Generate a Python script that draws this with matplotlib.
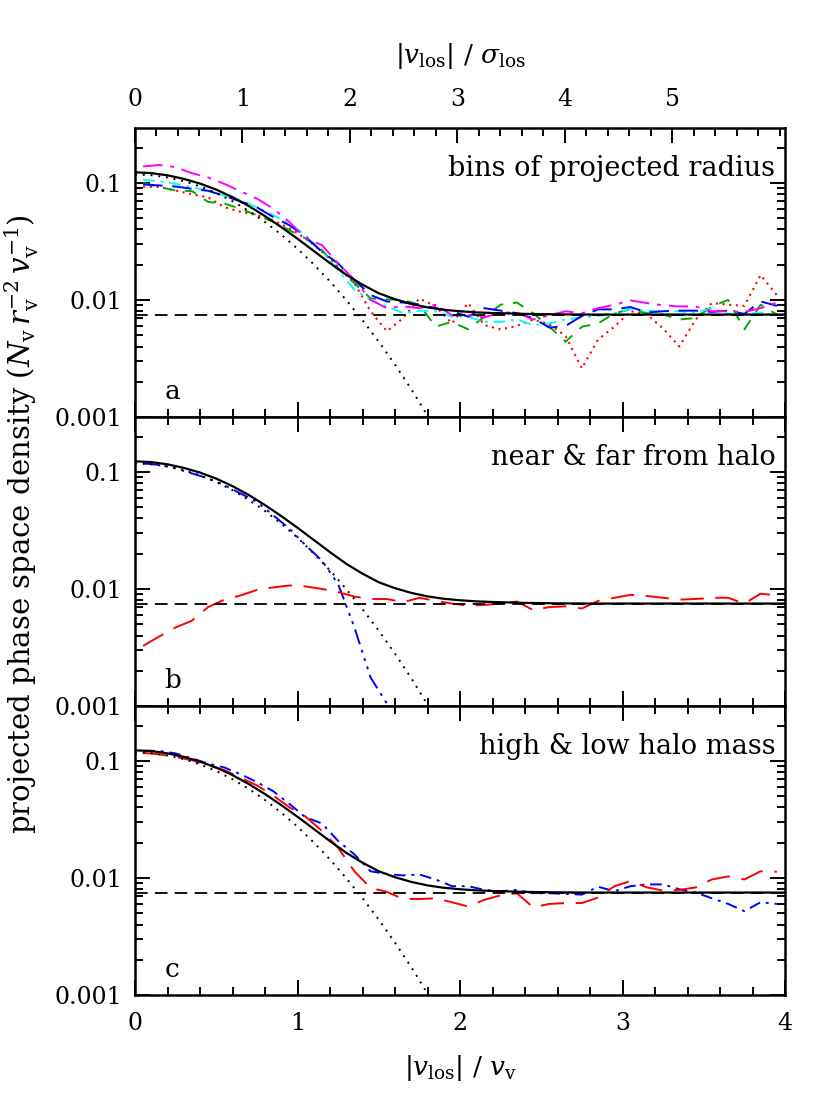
"""Projected phase space density of particles around haloes, three panels."""

import numpy as np
import matplotlib
matplotlib.use("Agg")
import matplotlib.pyplot as plt
from matplotlib.ticker import FixedLocator, MultipleLocator, LogLocator, NullFormatter

plt.rcParams['font.family'] = ['DejaVu Serif']
plt.rcParams['mathtext.fontset'] = 'dejavuserif'

# ---- data -----------------------------------------------------------------
SIGMA_LOS = 0.6615          # sigma_los / v_v (top axis scale)
BACKGROUND = 0.0075         # constant interloper level
sigma_ticks = [0, 1, 2, 3, 4, 5]

# model curves, sampled in v_los / v_v
v_model = [0.0, 0.1, 0.2, 0.3, 0.4, 0.5, 0.6, 0.7, 0.8, 0.9, 1.0, 1.1, 1.2,
           1.3, 1.4, 1.5, 1.6, 1.7, 1.8, 1.9, 2.0, 2.1, 2.2, 2.4, 2.6, 2.8, 4.0]
model_total = [0.1230, 0.1211, 0.1159, 0.1081, 0.0986, 0.0875, 0.0755, 0.0634,
               0.0520, 0.0419, 0.0333, 0.0262, 0.0206, 0.0164, 0.0135, 0.0114,
               0.01014, 0.00925, 0.00863, 0.00824, 0.00800, 0.00783, 0.00773,
               0.00760, 0.00753, 0.0075, 0.0075]
v_gauss = [0.0, 0.1, 0.2, 0.3, 0.4, 0.5, 0.6, 0.7, 0.8, 0.9, 1.0, 1.1, 1.2,
           1.3, 1.4, 1.5, 1.6, 1.7, 1.8, 1.9]
model_gauss = [0.118, 0.1163, 0.1113, 0.1034, 0.0934, 0.0819, 0.0697, 0.0576,
               0.0463, 0.0361, 0.0274, 0.0201, 0.01438, 0.00997, 0.00672,
               0.00440, 0.00280, 0.00173, 0.00103, 0.000602]

# measured bins (centres)
v_bins = [0.05, 0.15, 0.25, 0.35, 0.45, 0.55, 0.65, 0.75, 0.85, 0.95,
          1.05, 1.15, 1.25, 1.35, 1.45, 1.55, 1.65, 1.75, 1.85, 1.95,
          2.05, 2.15, 2.25, 2.35, 2.45, 2.55, 2.65, 2.75, 2.85, 2.95,
          3.05, 3.15, 3.25, 3.35, 3.45, 3.55, 3.65, 3.75, 3.85, 3.95]

# panel a: bins of projected radius
radius_magenta = [0.138, 0.142, 0.136, 0.121, 0.111, 0.098, 0.0847, 0.0733, 0.0602, 0.0464,
                  0.0335, 0.0294, 0.0205, 0.0148, 0.0100, 0.0085, 0.0088, 0.0085, 0.0091, 0.0074,
                  0.0074, 0.0071, 0.0078, 0.0078, 0.0068, 0.0074, 0.0080, 0.0077, 0.0085, 0.0091,
                  0.0099, 0.0094, 0.0090, 0.0088, 0.0088, 0.0080, 0.0080, 0.0079, 0.0085, 0.0095]
radius_blue = [0.097, 0.095, 0.093, 0.089, 0.0855, 0.0775, 0.0692, 0.0618, 0.0511, 0.0435,
               0.0346, 0.0258, 0.0205, 0.0148, 0.0110, 0.0097, 0.0095, 0.0091, 0.0085, 0.0080,
               0.0072, 0.0085, 0.0081, 0.0077, 0.0070, 0.0058, 0.0060, 0.0073, 0.0083, 0.0083,
               0.0087, 0.0078, 0.0080, 0.0081, 0.0081, 0.0079, 0.0081, 0.0076, 0.0097, 0.0089]
radius_cyan = [0.106, 0.103, 0.098, 0.092, 0.085, 0.078, 0.071, 0.062, 0.053, 0.045,
               0.0357, 0.0258, 0.018, 0.0122, 0.0100, 0.0088, 0.0077, 0.0081, 0.0080, 0.0072,
               0.0072, 0.0065, 0.0065, 0.0068, 0.0061, 0.0063, 0.0068, 0.0071, 0.0073, 0.0077,
               0.0084, 0.0081, 0.0080, 0.0080, 0.0078, 0.0085, 0.0076, 0.0075, 0.0078, 0.0072]
radius_green = [0.0998, 0.092, 0.086, 0.085, 0.0687, 0.0665, 0.060, 0.053, 0.0464, 0.0394,
                0.0335, 0.0267, 0.0186, 0.0139, 0.0103, 0.0101, 0.0100, 0.0091, 0.0059, 0.0065,
                0.0056, 0.0072, 0.0091, 0.0095, 0.0077, 0.0059, 0.0044, 0.0059, 0.0063, 0.0077,
                0.0083, 0.0077, 0.0075, 0.0068, 0.0070, 0.0088, 0.0100, 0.0056, 0.0091, 0.0075]
radius_red = [0.093, 0.092, 0.086, 0.080, 0.075, 0.062, 0.0565, 0.053, 0.048, 0.0408,
              0.0335, 0.0258, 0.0192, 0.0139, 0.0080, 0.0054, 0.0070, 0.0103, 0.0088, 0.0063,
              0.0094, 0.0061, 0.0056, 0.0060, 0.0068, 0.0062, 0.0049, 0.0026, 0.0046, 0.0059,
              0.0080, 0.0075, 0.0057, 0.0040, 0.0068, 0.0094, 0.0091, 0.0089, 0.0163, 0.0110]

# panel b: near & far from halo
v_near = [0.05, 0.15, 0.25, 0.35, 0.45, 0.55, 0.65, 0.75, 0.85, 0.95,
          1.05, 1.15, 1.25, 1.35, 1.45, 1.55, 1.65]
near_blue = [0.118, 0.1146, 0.107, 0.097, 0.0879, 0.077, 0.0653, 0.0554, 0.0426, 0.0327,
             0.0236, 0.0175, 0.0110, 0.0047, 0.00175, 0.00105, 0.0005]
far_red = [0.00326, 0.00393, 0.00469, 0.00535, 0.0070, 0.0081, 0.0088, 0.0098, 0.0103, 0.0107,
           0.0105, 0.0100, 0.0094, 0.0086, 0.0082, 0.0082, 0.0077, 0.0084, 0.0079, 0.0075,
           0.0072, 0.0073, 0.0075, 0.0078, 0.0066, 0.0070, 0.0071, 0.0068, 0.0079, 0.0084,
           0.0089, 0.0087, 0.0084, 0.0081, 0.0082, 0.0084, 0.0084, 0.0075, 0.0091, 0.0088]

# panel c: high & low halo mass
mass_blue = [0.122, 0.1215, 0.1157, 0.105, 0.0948, 0.0877, 0.0767, 0.0659, 0.0551, 0.0429,
             0.0329, 0.0292, 0.0207, 0.0159, 0.0114, 0.0108, 0.0105, 0.0107, 0.0097, 0.0085,
             0.0085, 0.0079, 0.0077, 0.0079, 0.0074, 0.0074, 0.0073, 0.0072, 0.0084, 0.0077,
             0.0085, 0.0088, 0.0088, 0.0080, 0.0075, 0.0067, 0.0060, 0.0052, 0.0062, 0.0060]
mass_red = [0.117, 0.1135, 0.108, 0.1013, 0.0918, 0.0832, 0.0718, 0.0617, 0.0506, 0.0401,
            0.0334, 0.0252, 0.0181, 0.0114, 0.0082, 0.0076, 0.0066, 0.0066, 0.0067, 0.0062,
            0.0057, 0.0065, 0.0071, 0.0074, 0.0056, 0.0060, 0.0061, 0.0061, 0.0068, 0.0085,
            0.0094, 0.0083, 0.0078, 0.0079, 0.0083, 0.0097, 0.0103, 0.0097, 0.0114, 0.0113]

panel_titles = ["bins of projected radius", "near & far from halo", "high & low halo mass"]
panel_letters = ["a", "b", "c"]

# ---- figure ---------------------------------------------------------------
W, H = 830, 1106
fig = plt.figure(figsize=(W / 100, H / 100), dpi=100)

left, right = 135 / W, 785 / W
ptop, pbot = 128, 995
ph = (pbot - ptop) / 3
axes = []
for i in range(3):
    y0 = 1 - (ptop + (i + 1) * ph) / H
    axes.append(fig.add_axes([left, y0, right - left, ph / H]))

LS_MAG = (0, (10, 4, 2, 4))
LS_BLUE = (0, (10, 5))
LS_CYAN = (0, (6, 3, 1.5, 3))
LS_GREEN = (0, (6, 5))
LS_RED_DOT = (0, (1, 2.2))
LS_DDD = (0, (8, 3, 1.5, 3, 1.5, 3, 1.5, 3))
LS_LONG = (0, (12, 6))


def draw_model(ax):
    ax.plot([0, 4], [BACKGROUND, BACKGROUND], color='k', lw=1.3, ls=(0, (7, 4)), zorder=3)
    ax.plot(v_gauss, model_gauss, color='k', lw=1.4, ls=(0, (1, 3)), zorder=3)
    ax.plot(v_model, model_total, color='k', lw=1.6, zorder=4)


ax = axes[0]
ax.plot(v_bins, radius_red, color='red', lw=1.5, ls=LS_RED_DOT)
ax.plot(v_bins, radius_green, color='#00aa00', lw=1.4, ls=LS_GREEN)
ax.plot(v_bins, radius_cyan, color='cyan', lw=1.4, ls=LS_CYAN)
ax.plot(v_bins, radius_blue, color='blue', lw=1.4, ls=LS_BLUE)
ax.plot(v_bins, radius_magenta, color='magenta', lw=1.4, ls=LS_MAG)
draw_model(ax)

ax = axes[1]
ax.plot(v_near, near_blue, color='blue', lw=1.4, ls=LS_DDD)
ax.plot(v_bins, far_red, color='red', lw=1.4, ls=LS_LONG)
draw_model(ax)

ax = axes[2]
ax.plot(v_bins, mass_blue, color='blue', lw=1.4, ls=LS_CYAN)
ax.plot(v_bins, mass_red, color='red', lw=1.4, ls=LS_LONG)
draw_model(ax)

for i, ax in enumerate(axes):
    ax.set_yscale('log')
    ax.set_xlim(0, 4)
    ax.set_ylim(0.001, 0.294)
    ax.yaxis.set_major_locator(FixedLocator([0.001, 0.01, 0.1]))
    ax.yaxis.set_minor_locator(LogLocator(base=10, subs=np.arange(2, 10)))
    ax.yaxis.set_minor_formatter(NullFormatter())
    ax.set_yticklabels(['0.001', '0.01', '0.1'])
    ax.xaxis.set_major_locator(MultipleLocator(1))
    ax.xaxis.set_minor_locator(MultipleLocator(0.2))
    ax.tick_params(which='both', direction='in', right=True, top=(i > 0),
                   width=1.4, labelsize=17)
    ax.tick_params(which='major', length=11)
    ax.tick_params(which='minor', length=6)
    ax.tick_params(axis='y', pad=9)
    ax.tick_params(axis='x', pad=12)
    for sp in ax.spines.values():
        sp.set_linewidth(1.8)
    if i < 2:
        ax.tick_params(labelbottom=False)
    ax.text(0.985, 0.86, panel_titles[i], transform=ax.transAxes, ha='right',
            va='center', fontsize=19.5)
    ax.text(0.045, 0.045, panel_letters[i], transform=ax.transAxes, ha='left',
            va='bottom', fontsize=19)

axes[2].set_xlabel(r'$|v_{\rm los}|\ /\ v_{\rm v}$', fontsize=19, labelpad=13)

top = axes[0].secondary_xaxis('top', functions=(lambda v: v / SIGMA_LOS,
                                                 lambda s: s * SIGMA_LOS))
top.xaxis.set_major_locator(FixedLocator(sigma_ticks))
top.xaxis.set_minor_locator(MultipleLocator(0.2))
top.tick_params(which='both', direction='in', width=1.4, labelsize=17, pad=12)
top.tick_params(which='major', length=11)
top.tick_params(which='minor', length=6)
top.set_xlabel(r'$|v_{\rm los}|\ /\ \sigma_{\rm los}$', fontsize=19, labelpad=18)

fig.text(0.026, 1 - 524 / H,
         r'projected phase space density $(N_{\rm v}\, r_{\rm v}^{-2}\, v_{\rm v}^{-1})$',
         rotation=90, ha='center', va='center', fontsize=21)

fig.savefig('out.png', dpi=100)
